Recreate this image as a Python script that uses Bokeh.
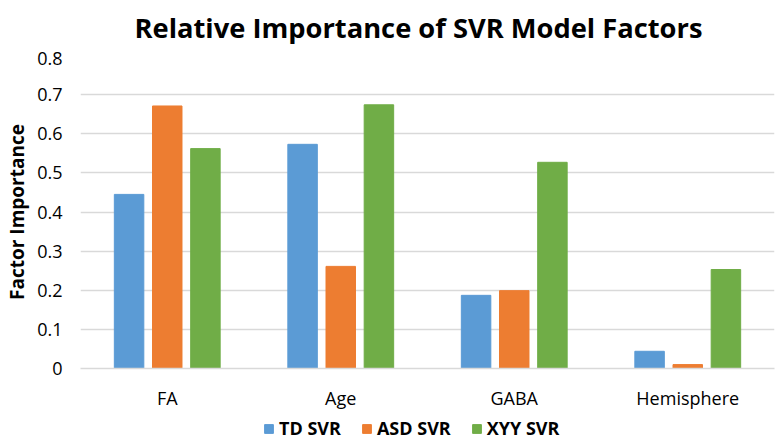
from bokeh.plotting import figure
from bokeh.models import ColumnDataSource, Legend, LegendItem, Range1d, FixedTicker
from bokeh.layouts import column
from bokeh.transform import dodge
from bokeh.core.properties import value
from bokeh.embed import file_html
from bokeh.resources import INLINE

title_text = "Relative Importance of SVR Model Factors"
categories = ["FA", "Age", "GABA", "Hemisphere"]
td_svr = [0.445, 0.573, 0.187, 0.044]
asd_svr = [0.671, 0.261, 0.199, 0.010]
xyy_svr = [0.562, 0.674, 0.527, 0.253]
series_names = ["TD SVR", "ASD SVR", "XYY SVR"]
y_ticks = [0, 0.1, 0.2, 0.3, 0.4, 0.5, 0.6, 0.7, 0.8]
y_tick_labels = ["0", "0.1", "0.2", "0.3", "0.4", "0.5", "0.6", "0.7", "0.8"]

colors = ["#5B9BD5", "#ED7D31", "#70AD47"]
FONT = "Open Sans"

# title strip above the chart (its frame is aligned with the chart's frame: 694 px wide)
tt = figure(width=780, height=51, x_range=Range1d(0, 694), y_range=Range1d(0, 51),
            output_backend="svg", toolbar_location=None, min_border=0,
            x_axis_location=None, y_axis_location=None)
tt.outline_line_color = None
tt.grid.grid_line_color = None
tt.text(x=[338], y=[24], text=[title_text], text_font=value(FONT), text_font_size="27.3px",
        text_font_style="bold", text_align="center", text_baseline="alphabetic",
        text_color="#000000")

source = ColumnDataSource(dict(cat=categories, td=td_svr, asd=asd_svr, xyy=xyy_svr))

p = figure(x_range=categories, y_range=Range1d(0, 0.8), width=780, height=361,
           output_backend="svg", toolbar_location=None,
           min_border_left=80, min_border_right=6, min_border_top=4, min_border_bottom=43)

offsets = [-0.22, 0.0, 0.22]
fields = ["td", "asd", "xyy"]
for off, fld, col in zip(offsets, fields, colors):
    p.vbar(x=dodge("cat", off, range=p.x_range), top=fld, width=0.17, source=source,
           fill_color=col, line_color=col, line_width=1)

p.yaxis.ticker = FixedTicker(ticks=y_ticks)
p.yaxis.major_label_overrides = {t: l for t, l in zip(y_ticks, y_tick_labels)}
p.yaxis.axis_line_color = None
p.yaxis.major_tick_line_color = None
p.yaxis.minor_tick_line_color = None
p.yaxis.major_tick_out = 0
p.yaxis.major_label_standoff = 18
p.yaxis.major_label_text_font = FONT
p.yaxis.major_label_text_font_size = "18px"
p.yaxis.major_label_text_color = "#000000"
p.yaxis.axis_label = "Factor Importance"
p.yaxis.axis_label_text_font = FONT
p.yaxis.axis_label_text_font_size = "19px"
p.yaxis.axis_label_text_font_style = "bold"
p.yaxis.axis_label_text_color = "#000000"
p.yaxis.axis_label_standoff = 4

p.xaxis.axis_line_color = "#d9d9d9"
p.xaxis.axis_line_width = 1.5
p.xaxis.major_tick_line_color = None
p.xaxis.minor_tick_line_color = None
p.xaxis.major_tick_out = 0
p.xaxis.major_label_standoff = 17
p.xaxis.major_label_text_font = FONT
p.xaxis.major_label_text_font_size = "18px"
p.xaxis.major_label_text_color = "#000000"

p.xgrid.grid_line_color = None
p.ygrid.grid_line_color = "#d9d9d9"
p.ygrid.grid_line_width = 1.5
p.outline_line_color = None

# legend strip below the chart (its frame is aligned with the chart's frame)
lg = figure(width=780, height=28, x_range=Range1d(0, 1), y_range=Range1d(0, 1),
            output_backend="svg", toolbar_location=None, min_border=0,
            x_axis_location=None, y_axis_location=None)
lg.outline_line_color = None
lg.grid.grid_line_color = None
dummies = [lg.vbar(x=[-10], top=[-10], width=0.1, fill_color=c, line_color=c) for c in colors]
legend = Legend(items=[LegendItem(label=n, renderers=[r]) for n, r in zip(series_names, dummies)],
                orientation="horizontal", location=(183, 0))
legend.label_text_font = FONT
legend.label_text_font_size = "18px"
legend.label_text_font_style = "bold"
legend.label_text_color = "#000000"
legend.glyph_width = 11
legend.glyph_height = 11
legend.spacing = 20
legend.label_standoff = 5
legend.border_line_color = None
legend.background_fill_alpha = 0
legend.padding = 0
legend.margin = 0
lg.add_layout(legend, "center")

open("out.html", "w").write(file_html(column(tt, p, lg), INLINE))
